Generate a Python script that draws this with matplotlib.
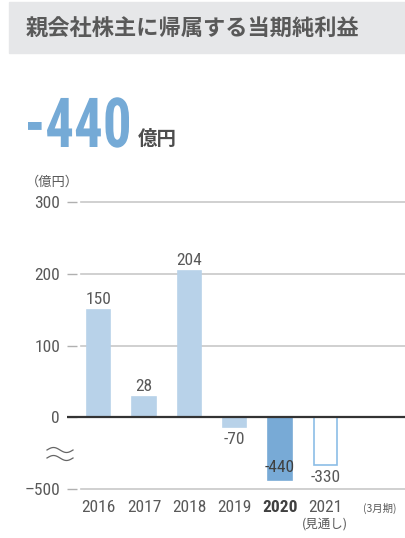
import numpy as np
import matplotlib
matplotlib.use('Agg')
import matplotlib.pyplot as plt
from matplotlib.patches import Rectangle, PathPatch
from matplotlib.lines import Line2D
from matplotlib.textpath import TextPath
from matplotlib.font_manager import FontProperties
from matplotlib.transforms import Affine2D, IdentityTransform

# データ（億円）
years = ['2016', '2017', '2018', '2019', '2020', '2021']
profit = [150, 28, 204, -70, -440, -330]
yticks = [300, 200, 100, 0, -500]
ytick_labels = ['300', '200', '100', '0', '\u2013500']
current = '2020'
forecast = '2021'

W, H = 405, 538
FONT = ['Roboto Condensed', 'Noto Sans CJK JP']
CJK = ['Noto Sans CJK JP']
plt.rcParams['font.family'] = FONT

GRAY = '#595959'
LIGHT = '#b8d2e9'
DARK = '#78aad6'
EDGE = '#8cbde6'


# マイナス側は1/5に圧縮（波線で省略）
def fwd(v):
    v = np.asarray(v, dtype=float)
    return np.where(v >= 0, v, v / 5)


def inv(v):
    v = np.asarray(v, dtype=float)
    return np.where(v >= 0, v, v * 5)


def px(x, y):
    return (x / W, 1 - y / H)


fig = plt.figure(figsize=(W / 100, H / 100), dpi=100)

# タイトル帯
fig.patches.append(Rectangle(px(9, 53), (W - 9) / W, 51 / H,
                             transform=fig.transFigure, color='#e6e7e9', zorder=0))
fig.text(*px(26, 28), '親会社株主に帰属する当期純利益', family=CJK, weight='bold',
         size=16, color=GRAY, va='center')

# 大きな数字（横に詰めて描く）
idx_cur = years.index(current)
big = TextPath((0, 0), f'{profit[idx_cur]}', size=69,
               prop=FontProperties(family='Roboto Condensed', weight='bold'))
ext = big.get_extents()
sx = 101 / ext.width
tr = Affine2D().translate(-ext.x0, 0).scale(sx, 1).translate(28, H - 147)
fig.patches.append(PathPatch(big, transform=tr + IdentityTransform(),
                             color='#75aad6', lw=0))
fig.text(*px(138, 145), '億円', family=CJK, weight='bold', size=14,
         color='#4d4d4d', va='baseline')
fig.text(*px(26, 182), '（億円）', family=CJK, size=9.5, color=GRAY, va='center')

# グラフ
ax = fig.add_axes([67 / W, (H - 489) / H, 338 / W, 287 / H])
ax.set_yscale('function', functions=(fwd, inv))
ax.set_ylim(-500, 300)
ax.set_xlim(-0.70, 6.76)

x = np.arange(len(years))
face = []
edge = []
for y in years:
    if y == current:
        face.append(DARK)
        edge.append(DARK)
    elif y == forecast:
        face.append('white')
        edge.append(EDGE)
    else:
        face.append(LIGHT)
        edge.append(LIGHT)
ax.bar(x, profit, width=0.51, color=face, edgecolor=edge, linewidth=1.2, zorder=2)

for t in ax.spines.values():
    t.set_visible(False)

ax.set_yticks(yticks, ytick_labels)
ax.tick_params(axis='y', direction='in', length=7.2, color='#b0b0b0', width=1,
               pad=5, labelsize=12.5, labelcolor=GRAY)
for yv in yticks:
    if yv != 0:
        ax.axhline(yv, xmin=14 / 338, color='#c8c8c8', lw=1.2, clip_on=False, zorder=1)
ax.axhline(0, color='#333333', lw=1.6, zorder=3)

ax.set_xticks(x, years)
ax.tick_params(axis='x', length=0, pad=8, labelsize=12.5, labelcolor=GRAY)
for lbl in ax.get_xticklabels():
    if lbl.get_text() == current:
        lbl.set_fontweight('bold')
        lbl.set_color('#404040')

ax.annotate('(見通し)', xy=(years.index(forecast), 0), xycoords=('data', 'axes fraction'),
            xytext=(0, -35 * 0.72), textcoords='offset points', ha='center', va='center',
            family=CJK, size=9, color=GRAY, annotation_clip=False)
ax.annotate('(3月期)', xy=(len(years) + 0.2, 0), xycoords=('data', 'axes fraction'),
            xytext=(0, -19 * 0.72), textcoords='offset points', ha='center', va='center',
            family=CJK, size=7.5, color=GRAY, annotation_clip=False)

# 値ラベル
for i, v in enumerate(profit):
    if years[i] == current:
        ax.annotate(f'{v}', xy=(i, v), xytext=(0, 13 * 0.72), textcoords='offset points',
                    ha='center', va='center', size=12.5, color='#404040', zorder=4)
    elif v >= 0:
        ax.annotate(f'{v}', xy=(i, v), xytext=(0, 3 * 0.72), textcoords='offset points',
                    ha='center', va='bottom', size=12.5, color=GRAY)
    else:
        ax.annotate(f'{v}', xy=(i, v), xytext=(0, -5 * 0.72), textcoords='offset points',
                    ha='center', va='top', size=12.5, color=GRAY)

# 省略記号（波線）
tt = np.linspace(0, 2 * np.pi, 40)
for yc in (450, 458):
    xs = 47 + 26 * tt / (2 * np.pi)
    ys = yc - 2.5 * np.sin(tt)
    fig.add_artist(Line2D(xs / W, 1 - ys / H, transform=fig.transFigure,
                          color='#666666', lw=0.9))

fig.savefig('out.png', dpi=100)
